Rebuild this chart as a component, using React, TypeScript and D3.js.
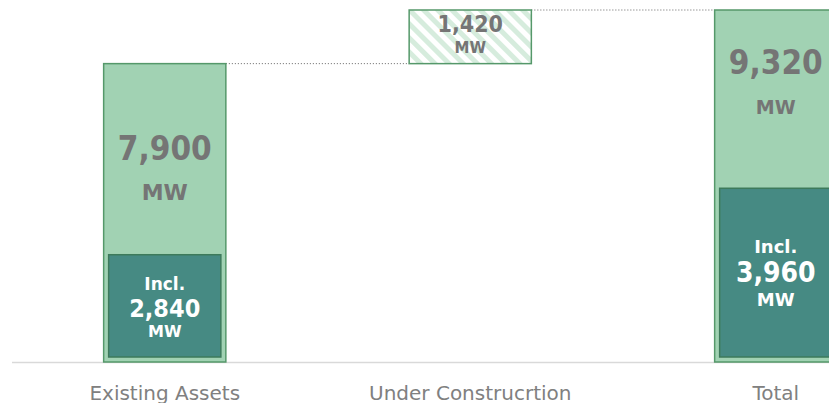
import { useEffect, useRef } from 'react';
import * as d3 from 'd3';

// waterfall data (MW)
const categories = ['Existing Assets', 'Under Construcrtion', 'Total'];
const barStart = [0, 7900, 0];
const barEnd = [7900, 9320, 9320];
const valueLabels = ['7,900', '1,420', '9,320'];
const barKinds = ['solid', 'hatched', 'solid'];

const innerCategories = ['Existing Assets', 'Total'];
const innerBarValues = [2840, 4600];
const innerLabels = ['2,840', '3,960'];

const W = 829;
const H = 403;
const baseline = 362;

const LIGHT = '#a1d2b3';
const LIGHT_STROKE = '#55986a';
const TEAL = '#468a83';
const TEAL_STROKE = '#3d7a5b';
const GRAY_TEXT = '#757575';
const BOLD = "'DejaVu Sans', Verdana, sans-serif";

// label placement per bar (offset below bar top)
const mainLabelLayout = [
  { num: 96, numSize: 33, mw: 136, mwSize: 22 },
  { num: 22, numSize: 23, mw: 43, mwSize: 15 },
  { num: 64, numSize: 33, mw: 104, mwSize: 19 },
];
const innerLabelLayout = [
  { incl: 35, inclSize: 17, num: 62, numSize: 25, mw: 82, mwSize: 16 },
  { incl: 65, inclSize: 18, num: 94, numSize: 28, mw: 118, mwSize: 18 },
];

export default function App() {
  const svgRef = useRef<SVGSVGElement>(null);

  useEffect(() => {
    document.body.style.margin = '0';
    if (!svgRef.current) return;
    const svg = d3.select(svgRef.current);
    svg.selectAll('*').remove();

    const x = d3
      .scaleBand<string>()
      .domain(categories)
      .range([12, 928.5])
      .paddingInner(0.6)
      .paddingOuter(0.3);

    const y = d3.scaleLinear().domain([0, 9320]).range([baseline, 10]);

    // hatch pattern for the under construction bar
    const defs = svg.append('defs');
    const pat = defs
      .append('pattern')
      .attr('id', 'hatch')
      .attr('patternUnits', 'userSpaceOnUse')
      .attr('width', 10)
      .attr('height', 10)
      .attr('patternTransform', 'rotate(-45)');
    pat.append('rect').attr('width', 10).attr('height', 10).attr('fill', '#ffffff');
    pat.append('rect').attr('width', 5).attr('height', 10).attr('fill', '#d6ecdd');

    // axis line
    svg
      .append('line')
      .attr('x1', 12)
      .attr('x2', W)
      .attr('y1', baseline + 0.5)
      .attr('y2', baseline + 0.5)
      .attr('stroke', '#d9d9d9')
      .attr('stroke-width', 1.5);

    // connector lines
    for (let i = 0; i < categories.length - 1; i++) {
      const yy = y(barEnd[i]);
      svg
        .append('line')
        .attr('x1', x(categories[i])! + x.bandwidth())
        .attr('x2', x(categories[i + 1])!)
        .attr('y1', yy)
        .attr('y2', yy)
        .attr('stroke', '#666')
        .attr('stroke-width', 1)
        .attr('stroke-dasharray', '1 2');
    }

    // main bars
    svg
      .selectAll('rect.bar')
      .data(categories)
      .enter()
      .append('rect')
      .attr('class', 'bar')
      .attr('x', d => x(d)!)
      .attr('width', x.bandwidth())
      .attr('y', (d, i) => y(barEnd[i]))
      .attr('height', (d, i) => y(barStart[i]) - y(barEnd[i]))
      .attr('fill', (d, i) => (barKinds[i] === 'hatched' ? 'url(#hatch)' : LIGHT))
      .attr('stroke', LIGHT_STROKE)
      .attr('stroke-width', 1.5);

    // inner bars
    const inset = 5;
    svg
      .selectAll('rect.inner')
      .data(innerCategories)
      .enter()
      .append('rect')
      .attr('class', 'inner')
      .attr('x', d => x(d)! + inset)
      .attr('width', x.bandwidth() - inset * 2)
      .attr('y', (d, i) => y(innerBarValues[i]))
      .attr('height', (d, i) => y(0) - inset - y(innerBarValues[i]))
      .attr('fill', TEAL)
      .attr('stroke', TEAL_STROKE)
      .attr('stroke-width', 1.5);

    // main labels
    categories.forEach((c, i) => {
      const cx = x(c)! + x.bandwidth() / 2;
      const top = y(barEnd[i]);
      const L = mainLabelLayout[i];
      svg
        .append('text')
        .attr('x', cx)
        .attr('y', top + L.num)
        .attr('text-anchor', 'middle')
        .attr('font-family', BOLD)
        .attr('font-weight', 'bold')
        .attr('font-stretch', 'condensed')
        .attr('font-size', L.numSize)
        .attr('fill', GRAY_TEXT)
        .text(valueLabels[i]);
      svg
        .append('text')
        .attr('x', cx)
        .attr('y', top + L.mw)
        .attr('text-anchor', 'middle')
        .attr('font-family', BOLD)
        .attr('font-weight', 'bold')
        .attr('font-size', L.mwSize)
        .attr('fill', GRAY_TEXT)
        .text('MW');
    });

    // inner labels
    innerCategories.forEach((c, i) => {
      const cx = x(c)! + x.bandwidth() / 2;
      const top = y(innerBarValues[i]);
      const L = innerLabelLayout[i];
      const g = svg
        .append('g')
        .attr('fill', '#ffffff')
        .attr('text-anchor', 'middle')
        .attr('font-family', BOLD)
        .attr('font-weight', 'bold');
      g.append('text').attr('x', cx).attr('y', top + L.incl).attr('font-size', L.inclSize).text('Incl.');
      g.append('text')
        .attr('x', cx)
        .attr('y', top + L.num)
        .attr('font-size', L.numSize)
        .attr('font-stretch', 'condensed')
        .text(innerLabels[i]);
      g.append('text').attr('x', cx).attr('y', top + L.mw).attr('font-size', L.mwSize).text('MW');
    });

    // category labels
    svg
      .selectAll('text.cat')
      .data(categories)
      .enter()
      .append('text')
      .attr('class', 'cat')
      .attr('x', d => x(d)! + x.bandwidth() / 2)
      .attr('y', 400)
      .attr('text-anchor', 'middle')
      .attr('font-family', "'DejaVu Sans', sans-serif")
      .attr('font-size', 20)
      .attr('fill', '#808080')
      .text(d => d);
  }, []);

  return (
    <svg
      ref={svgRef}
      width={W}
      height={H}
      style={{ position: 'absolute', left: 0, top: 0, display: 'block', background: '#fff' }}
    />
  );
}
